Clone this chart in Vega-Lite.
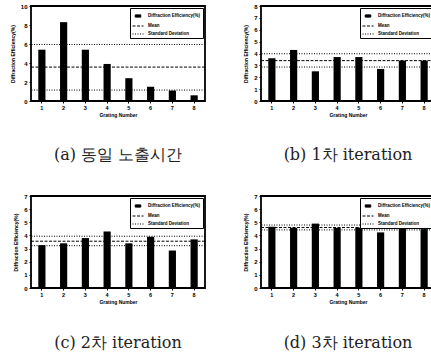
{
  "$schema": "https://vega.github.io/schema/vega-lite/v6.json",
  "padding": {"left": 9, "top": 2, "right": 0, "bottom": 0},
  "background": "white",
  "datasets": {
    "a": [{"g": 1, "v": 5.4}, {"g": 2, "v": 8.3}, {"g": 3, "v": 5.4}, {"g": 4, "v": 3.9}, {"g": 5, "v": 2.4}, {"g": 6, "v": 1.5}, {"g": 7, "v": 1.1}, {"g": 8, "v": 0.6}],
    "a_s": [{"kind": "Mean", "v": 3.57}, {"kind": "Standard Deviation", "v": 5.95}, {"kind": "Standard Deviation", "v": 1.15}],
    "b": [{"g": 1, "v": 3.6}, {"g": 2, "v": 4.3}, {"g": 3, "v": 2.5}, {"g": 4, "v": 3.7}, {"g": 5, "v": 3.7}, {"g": 6, "v": 2.7}, {"g": 7, "v": 3.4}, {"g": 8, "v": 3.4}],
    "b_s": [{"kind": "Mean", "v": 3.4}, {"kind": "Standard Deviation", "v": 3.98}, {"kind": "Standard Deviation", "v": 2.86}],
    "c": [{"g": 1, "v": 3.26}, {"g": 2, "v": 3.4}, {"g": 3, "v": 3.8}, {"g": 4, "v": 4.3}, {"g": 5, "v": 3.4}, {"g": 6, "v": 3.9}, {"g": 7, "v": 2.85}, {"g": 8, "v": 3.7}],
    "c_s": [{"kind": "Mean", "v": 3.56}, {"kind": "Standard Deviation", "v": 3.94}, {"kind": "Standard Deviation", "v": 3.22}],
    "d": [{"g": 1, "v": 4.66}, {"g": 2, "v": 4.58}, {"g": 3, "v": 4.9}, {"g": 4, "v": 4.58}, {"g": 5, "v": 4.6}, {"g": 6, "v": 4.23}, {"g": 7, "v": 4.78}, {"g": 8, "v": 4.48}],
    "d_s": [{"kind": "Mean", "v": 4.6}, {"kind": "Standard Deviation", "v": 4.79}, {"kind": "Standard Deviation", "v": 4.42}]
  },
  "config": {
    "view": {"stroke": "black", "strokeWidth": 1.8},
    "font": "Liberation Sans",
    "axis": {"labelFontSize": 5.5, "titleFontSize": 5, "labelFontWeight": "bold", "titleFontWeight": "bold", "labelColor": "black", "titleColor": "black", "tickColor": "black", "domain": false, "grid": false, "tickSize": 2, "labelPadding": 2, "labelOverlap": false},
    "axisY": {"titlePadding": 5, "labelFontSize": 6, "labelOverlap": false, "labelFlush": false, "labelBaseline": "middle"},
    "axisX": {"titlePadding": 2, "labelAngle": 0},
    "title": {"font": "DejaVu Serif", "fontSize": 16, "fontWeight": "normal", "color": "#222222"},
    "legend": {"orient": "top-right", "offset": 2, "title": null, "labelFontSize": 4.5, "labelFont": "Liberation Sans", "labelFontWeight": "bold", "labelColor": "black", "strokeColor": "black", "fillColor": "white", "padding": 2, "rowPadding": -1, "symbolSize": 121, "labelOffset": 4,
      "symbolStrokeColor": "black"}
  },
  "resolve": {"scale": {"color": "independent", "strokeDash": "independent"}, "legend": {"color": "independent"}},
  "spacing": 28,
  "vconcat": [
    {
      "spacing": 35,
      "resolve": {"scale": {"color": "independent", "strokeDash": "independent", "y": "independent"}, "legend": {"color": "independent"}},
      "hconcat": [
        {
          "width": 174, "height": 95,
          "title": {"text": "(a) 동일 노출시간", "orient": "bottom", "offset": 29, "anchor": "middle"},
          "layer": [
            {"data": {"name": "a"}, "mark": {"type": "bar", "color": "black", "width": {"band": 0.33}},
              "encoding": {
                "x": {"field": "g", "type": "ordinal", "scale": {"padding": 0}, "axis": {"title": "Grating Number"}},
                "y": {"field": "v", "type": "quantitative", "scale": {"domain": [0, 10], "nice": false, "zero": true}, "axis": {"values": [0, 2, 4, 6, 8, 10], "title": "Diffraction Efficiency(%)"}},
                "color": {"datum": "Diffraction Efficiency(%)", "type": "nominal", "scale": {"domain": ["Diffraction Efficiency(%)", "Mean", "Standard Deviation"], "range": ["black", "black", "black"]},
                  "legend": {"encode": {"symbols": {"update": {"shape": {"signal": "datum.index === 0 ? 'M-0.5,-0.2H0.5V0.2H-0.5Z' : 'stroke'"}, "fill": {"signal": "datum.index === 0 ? 'black' : 'transparent'"}, "stroke": {"value": "black"}, "strokeWidth": {"value": 1}, "strokeDash": {"signal": "datum.index === 1 ? [3,1.5] : (datum.index === 2 ? [1,1.5] : [])"}}}}}}
              }},
            {"data": {"name": "a_s"}, "mark": {"type": "rule", "strokeWidth": 1},
              "encoding": {
                "y": {"field": "v", "type": "quantitative", "axis": {"values": [0, 2, 4, 6, 8, 10], "title": "Diffraction Efficiency(%)"}},
                "color": {"field": "kind", "type": "nominal"},
                "strokeDash": {"field": "kind", "type": "nominal", "scale": {"domain": ["Mean", "Standard Deviation"], "range": [[3, 1.5], [1, 1.5]]}, "legend": null}
              }}
          ]
        },
        {
          "width": 174, "height": 95,
          "title": {"text": "(b) 1차 iteration", "orient": "bottom", "offset": 29, "anchor": "middle"},
          "layer": [
            {"data": {"name": "b"}, "mark": {"type": "bar", "color": "black", "width": {"band": 0.33}},
              "encoding": {
                "x": {"field": "g", "type": "ordinal", "scale": {"padding": 0}, "axis": {"title": "Grating Number"}},
                "y": {"field": "v", "type": "quantitative", "scale": {"domain": [0, 8], "nice": false}, "axis": {"values": [0, 1, 2, 3, 4, 5, 6, 7, 8], "title": "Diffraction Efficiency(%)"}},
                "color": {"datum": "Diffraction Efficiency(%)", "type": "nominal", "scale": {"domain": ["Diffraction Efficiency(%)", "Mean", "Standard Deviation"], "range": ["black", "black", "black"]},
                  "legend": {"encode": {"symbols": {"update": {"shape": {"signal": "datum.index === 0 ? 'M-0.5,-0.2H0.5V0.2H-0.5Z' : 'stroke'"}, "fill": {"signal": "datum.index === 0 ? 'black' : 'transparent'"}, "stroke": {"value": "black"}, "strokeWidth": {"value": 1}, "strokeDash": {"signal": "datum.index === 1 ? [3,1.5] : (datum.index === 2 ? [1,1.5] : [])"}}}}}}
              }},
            {"data": {"name": "b_s"}, "mark": {"type": "rule", "strokeWidth": 1},
              "encoding": {
                "y": {"field": "v", "type": "quantitative", "axis": {"values": [0, 1, 2, 3, 4, 5, 6, 7, 8], "title": "Diffraction Efficiency(%)"}},
                "color": {"field": "kind", "type": "nominal"},
                "strokeDash": {"field": "kind", "type": "nominal", "scale": {"domain": ["Mean", "Standard Deviation"], "range": [[3, 1.5], [1, 1.5]]}, "legend": null}
              }}
          ]
        }
      ]
    },
    {
      "spacing": 35,
      "resolve": {"scale": {"color": "independent", "strokeDash": "independent", "y": "independent"}, "legend": {"color": "independent"}},
      "hconcat": [
        {
          "width": 174, "height": 92,
          "title": {"text": "(c) 2차 iteration", "orient": "bottom", "offset": 30, "anchor": "middle"},
          "layer": [
            {"data": {"name": "c"}, "mark": {"type": "bar", "color": "black", "width": {"band": 0.33}},
              "encoding": {
                "x": {"field": "g", "type": "ordinal", "scale": {"padding": 0}, "axis": {"title": "Grating Number"}},
                "y": {"field": "v", "type": "quantitative", "scale": {"domain": [0, 7], "nice": false}, "axis": {"values": [0, 1, 2, 3, 4, 5, 6, 7], "title": "Diffraction Efficiency(%)"}},
                "color": {"datum": "Diffraction Efficiency(%)", "type": "nominal", "scale": {"domain": ["Diffraction Efficiency(%)", "Mean", "Standard Deviation"], "range": ["black", "black", "black"]},
                  "legend": {"encode": {"symbols": {"update": {"shape": {"signal": "datum.index === 0 ? 'M-0.5,-0.2H0.5V0.2H-0.5Z' : 'stroke'"}, "fill": {"signal": "datum.index === 0 ? 'black' : 'transparent'"}, "stroke": {"value": "black"}, "strokeWidth": {"value": 1}, "strokeDash": {"signal": "datum.index === 1 ? [3,1.5] : (datum.index === 2 ? [1,1.5] : [])"}}}}}}
              }},
            {"data": {"name": "c_s"}, "mark": {"type": "rule", "strokeWidth": 1},
              "encoding": {
                "y": {"field": "v", "type": "quantitative", "axis": {"values": [0, 1, 2, 3, 4, 5, 6, 7], "title": "Diffraction Efficiency(%)"}},
                "color": {"field": "kind", "type": "nominal"},
                "strokeDash": {"field": "kind", "type": "nominal", "scale": {"domain": ["Mean", "Standard Deviation"], "range": [[3, 1.5], [1, 1.5]]}, "legend": null}
              }}
          ]
        },
        {
          "width": 174, "height": 92,
          "title": {"text": "(d) 3차 iteration", "orient": "bottom", "offset": 30, "anchor": "middle"},
          "layer": [
            {"data": {"name": "d"}, "mark": {"type": "bar", "color": "black", "width": {"band": 0.33}},
              "encoding": {
                "x": {"field": "g", "type": "ordinal", "scale": {"padding": 0}, "axis": {"title": "Grating Number"}},
                "y": {"field": "v", "type": "quantitative", "scale": {"domain": [0, 7], "nice": false}, "axis": {"values": [0, 1, 2, 3, 4, 5, 6, 7], "title": "Diffraction Efficiency(%)"}},
                "color": {"datum": "Diffraction Efficiency(%)", "type": "nominal", "scale": {"domain": ["Diffraction Efficiency(%)", "Mean", "Standard Deviation"], "range": ["black", "black", "black"]},
                  "legend": {"encode": {"symbols": {"update": {"shape": {"signal": "datum.index === 0 ? 'M-0.5,-0.2H0.5V0.2H-0.5Z' : 'stroke'"}, "fill": {"signal": "datum.index === 0 ? 'black' : 'transparent'"}, "stroke": {"value": "black"}, "strokeWidth": {"value": 1}, "strokeDash": {"signal": "datum.index === 1 ? [3,1.5] : (datum.index === 2 ? [1,1.5] : [])"}}}}}}
              }},
            {"data": {"name": "d_s"}, "mark": {"type": "rule", "strokeWidth": 1},
              "encoding": {
                "y": {"field": "v", "type": "quantitative", "axis": {"values": [0, 1, 2, 3, 4, 5, 6, 7], "title": "Diffraction Efficiency(%)"}},
                "color": {"field": "kind", "type": "nominal"},
                "strokeDash": {"field": "kind", "type": "nominal", "scale": {"domain": ["Mean", "Standard Deviation"], "range": [[3, 1.5], [1, 1.5]]}, "legend": null}
              }}
          ]
        }
      ]
    }
  ]
}
